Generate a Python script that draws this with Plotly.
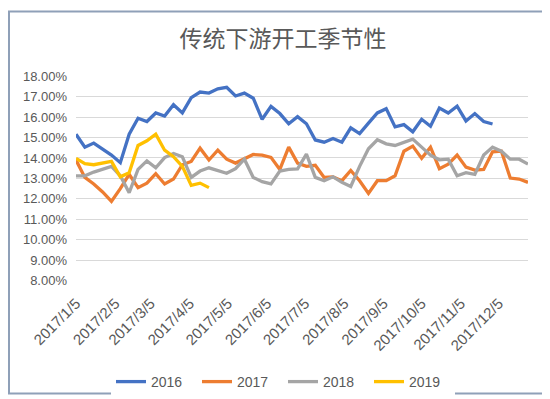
import pandas as pd
import plotly.graph_objects as go

# weekly dates (x positions), 52 weeks of 2017
dates = pd.date_range("2017-01-05", periods=52, freq="7D")

s2016 = [15.16, 14.53, 14.73, 14.45, 14.14, 13.77, 15.16, 15.94, 15.78, 16.20,
         16.05, 16.60, 16.20, 16.95, 17.22, 17.17, 17.38, 17.45, 17.03, 17.17,
         16.92, 15.89, 16.52, 16.17, 15.67, 16.02, 15.67, 14.88, 14.77, 14.95,
         14.77, 15.47, 15.19, 15.70, 16.20, 16.41, 15.52, 15.63, 15.28, 15.89,
         15.55, 16.44, 16.20, 16.53, 15.81, 16.17, 15.78, 15.66]
s2017 = [13.90, 13.05, 12.73, 12.34, 11.88, 12.50, 13.20, 12.55, 12.77, 13.23,
         12.73, 12.97, 13.67, 13.83, 14.48, 13.90, 14.38, 13.94, 13.75, 13.98,
         14.17, 14.14, 14.03, 13.44, 14.53, 13.75, 13.59, 13.64, 13.05, 13.08,
         12.89, 13.39, 12.89, 12.27, 12.89, 12.89, 13.13, 14.33, 14.58, 13.98,
         14.53, 13.48, 13.70, 14.14, 13.55, 13.41, 13.44, 14.30, 14.33, 13.02,
         12.97, 12.81]
s2018 = [13.13, 13.13, 13.31, 13.47, 13.59, 13.13, 12.30, 13.44, 13.86, 13.52,
         14.02, 14.22, 14.06, 13.05, 13.36, 13.52, 13.39, 13.25, 13.48, 13.94,
         13.05, 12.84, 12.73, 13.36, 13.44, 13.47, 14.19, 13.05, 12.89, 13.08,
         12.81, 12.61, 13.59, 14.45, 14.89, 14.69, 14.61, 14.77, 14.92, 14.53,
         14.14, 13.91, 13.94, 13.13, 13.28, 13.20, 14.14, 14.53, 14.33, 13.94,
         13.94, 13.70]
s2019 = [13.98, 13.72, 13.67, 13.73, 13.83, 13.08, 13.28, 14.61, 14.84, 15.16,
         14.38, 14.06, 13.59, 12.66, 12.77, 12.55]

series_names = ["2016", "2017", "2018", "2019"]
series_values = [s2016, s2017, s2018, s2019]
colors = ["#4472C4", "#ED7D31", "#A5A5A5", "#FFC000"]

tick_dates = ["2017-%02d-05" % m for m in range(1, 13)]
tick_labels = ["2017/%d/5" % m for m in range(1, 13)]
y_ticks = list(range(8, 19))
y_tick_labels = ["%.2f%%" % v for v in y_ticks]

title_text = "传统下游开工季节性"

fig = go.Figure()
for name, vals, col in zip(series_names, series_values, colors):
    fig.add_trace(go.Scatter(
        x=dates[:len(vals)], y=vals, name=name, mode="lines",
        line=dict(color=col, width=3.3),
    ))

W, H = 550, 399
ml, mr, mt, mb = 68, 30, 68, 118
pw, ph = W - ml - mr, H - mt - mb

fig.update_layout(
    width=W, height=H,
    margin=dict(l=ml, r=mr, t=mt, b=mb),
    paper_bgcolor="white", plot_bgcolor="white",
    font=dict(family="Liberation Sans, Arial, sans-serif", color="#595959"),
    title=dict(text=title_text, x=0.5, xref="container", xanchor="center",
               y=1 - 31 / H, yref="container", yanchor="middle",
               font=dict(family="Noto Sans CJK SC", size=23, color="#595959")),
    showlegend=True,
    legend=dict(orientation="h", xref="container", yref="container",
                x=0.5, xanchor="center", y=1 - 374 / H, yanchor="middle",
                entrywidth=41, entrywidthmode="pixels",
                font=dict(size=14, color="#595959"), traceorder="normal"),
    xaxis=dict(type="date", range=[dates[0], dates[-1]],
               tickmode="array", tickvals=tick_dates, ticktext=tick_labels,
               tickangle=-45, showgrid=False, showline=False, zeroline=False,
               ticks="", ticklabelstandoff=10,
               tickfont=dict(size=15, color="#595959")),
    yaxis=dict(range=[7.995, 18.005], tickmode="array", tickvals=y_ticks,
               ticktext=y_tick_labels, showgrid=True, gridcolor="#D9D9D9",
               gridwidth=1, zeroline=False, showline=False, ticks="",
               ticklabelstandoff=8,
               tickfont=dict(size=13, color="#595959")),
    shapes=[dict(type="rect", xref="paper", yref="paper",
                 x0=(-ml + 1) / pw, x1=1 + (mr - 1) / pw,
                 y0=(-mb + 1) / ph, y1=1 + (mt - 1) / ph,
                 line=dict(color="#8FA0B8", width=2), fillcolor="rgba(0,0,0,0)",
                 layer="above")],
)

fig.write_html("out.html")
